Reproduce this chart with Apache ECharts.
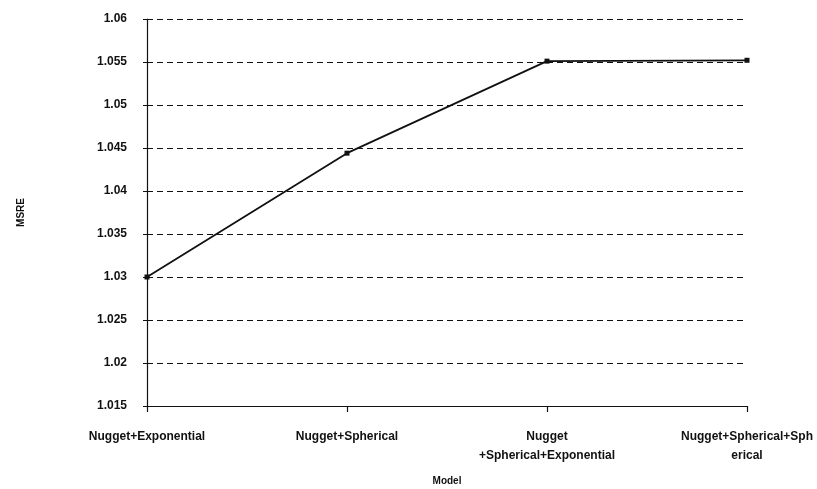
<!DOCTYPE html>
<html>
<head>
<meta charset="utf-8">
<script src="https://cdn.jsdelivr.net/npm/echarts@6/dist/echarts.min.js"></script>
<style>
  html, body { margin: 0; padding: 0; background: #fff; }
  #chart { width: 817px; height: 489px; }
</style>
</head>
<body>
<div id="chart"></div>
<script>
// Variogram model combinations and their mean squared relative error
const models = [
  'Nugget+Exponential',
  'Nugget+Spherical',
  'Nugget\n+Spherical+Exponential',
  'Nugget+Spherical+Sph\nerical'
];
const msre = [1.0300, 1.0444, 1.0551, 1.0552];

const yMin = 1.015;
const yMax = 1.06;
const yStep = 0.005;

const ink = '#111';
const font = 'Liberation Sans, Arial, sans-serif';

const chart = echarts.init(document.getElementById('chart'));
chart.setOption({
  backgroundColor: '#fff',
  animation: false,
  grid: { left: 147, right: 70, top: 19, bottom: 83, outerBoundsMode: 'none', containLabel: false },
  xAxis: {
    type: 'category',
    data: models,
    boundaryGap: false,
    name: 'Model',
    nameLocation: 'middle',
    nameGap: 70,
    nameTextStyle: { color: ink, fontFamily: font, fontWeight: 'bold', fontSize: 10 },
    axisLine: { lineStyle: { color: ink, width: 1.2 } },
    axisTick: { show: true, alignWithLabel: true, length: 6, inside: false, lineStyle: { color: ink, width: 1.2 } },
    axisLabel: {
      color: ink, fontFamily: font, fontWeight: 'bold', fontSize: 12,
      margin: 21, lineHeight: 19, verticalAlign: 'top', interval: 0
    },
    splitLine: { show: false }
  },
  yAxis: {
    type: 'value',
    min: yMin,
    max: yMax,
    interval: yStep,
    name: 'MSRE',
    nameLocation: 'middle',
    nameGap: 121,
    nameRotate: 90,
    nameTextStyle: { color: ink, fontFamily: font, fontWeight: 'bold', fontSize: 10 },
    axisLine: { show: true, lineStyle: { color: ink, width: 1.2 } },
    axisTick: { show: true, length: 4, lineStyle: { color: ink, width: 1 } },
    axisLabel: {
      color: ink, fontFamily: font, fontWeight: 'bold', fontSize: 12, margin: 20,
      formatter: v => String(parseFloat(v.toFixed(3)))
    },
    splitLine: { show: true, lineStyle: { color: ink, width: 1, type: [6, 4] } }
  },
  series: [{
    type: 'line',
    data: msre,
    symbol: 'rect',
    symbolSize: 5,
    itemStyle: { color: ink },
    lineStyle: { color: ink, width: 1.8 },
    silent: true
  }]
});
</script>
</body>
</html>
